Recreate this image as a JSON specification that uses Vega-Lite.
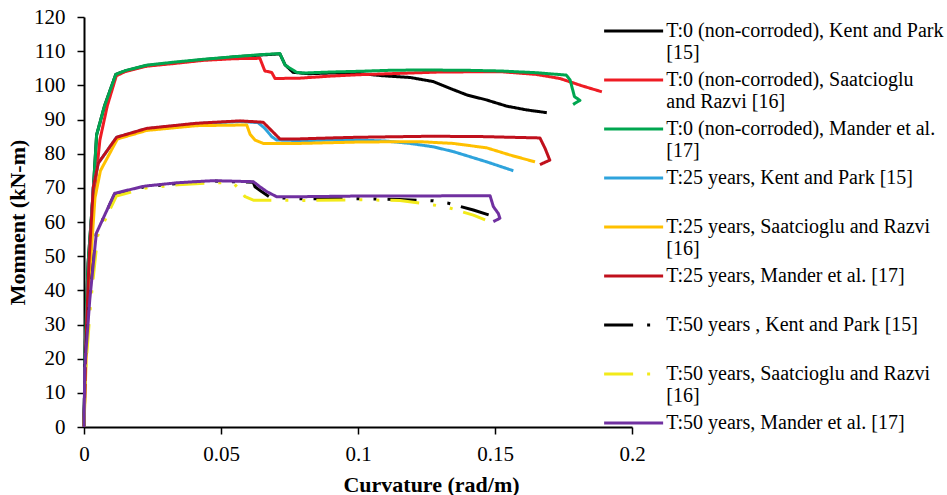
{
  "$schema": "https://vega.github.io/schema/vega-lite/v6.json",
  "width": 548,
  "height": 410,
  "autosize": "none",
  "padding": {"left": 84, "top": 17, "right": 315, "bottom": 68},
  "background": "white",
  "config": {
    "font": "Liberation Serif",
    "view": {"stroke": null},
    "axis": {"grid": false, "domainColor": "black", "domainWidth": 2, "tickColor": "black", "tickWidth": 1.5, "tickSize": 7, "labelFont": "Liberation Serif", "labelFontSize": 21, "labelColor": "black", "titleFont": "Liberation Serif", "titleFontSize": 22, "titleFontWeight": "bold", "titleColor": "black"},
    "legend": {"labelFont": "Liberation Serif", "labelFontSize": 20, "labelColor": "black"}
  },
  "data": {"values": [
    {"k":1,"i":0,"x":0,"y":0},{"k":1,"i":1,"x":0.0005,"y":25},{"k":1,"i":2,"x":0.0015,"y":48},{"k":1,"i":3,"x":0.0032,"y":67},{"k":1,"i":4,"x":0.0046,"y":85.5},{"k":1,"i":5,"x":0.0075,"y":94},{"k":1,"i":6,"x":0.0116,"y":103.2},{"k":1,"i":7,"x":0.015,"y":104.2},{"k":1,"i":8,"x":0.0229,"y":105.8},{"k":1,"i":9,"x":0.033,"y":106.6},{"k":1,"i":10,"x":0.0434,"y":107.5},{"k":1,"i":11,"x":0.055,"y":108.3},{"k":1,"i":12,"x":0.065,"y":108.9},{"k":1,"i":13,"x":0.0715,"y":109.2},{"k":1,"i":14,"x":0.0734,"y":106},{"k":1,"i":15,"x":0.0763,"y":103.8},{"k":1,"i":16,"x":0.082,"y":103.4},{"k":1,"i":17,"x":0.09,"y":103.6},{"k":1,"i":18,"x":0.1,"y":103.5},{"k":1,"i":19,"x":0.1092,"y":102.8},{"k":1,"i":20,"x":0.119,"y":102.3},{"k":1,"i":21,"x":0.1275,"y":101.1},{"k":1,"i":22,"x":0.1336,"y":99.1},{"k":1,"i":23,"x":0.1397,"y":97.2},{"k":1,"i":24,"x":0.147,"y":95.7},{"k":1,"i":25,"x":0.1543,"y":93.9},{"k":1,"i":26,"x":0.1616,"y":92.8},{"k":1,"i":27,"x":0.1689,"y":92.0},
    {"k":2,"i":0,"x":0,"y":0},{"k":2,"i":1,"x":0.0007,"y":25},{"k":2,"i":2,"x":0.002,"y":48},{"k":2,"i":3,"x":0.004,"y":70},{"k":2,"i":4,"x":0.0058,"y":84},{"k":2,"i":5,"x":0.0085,"y":94},{"k":2,"i":6,"x":0.0118,"y":102.8},{"k":2,"i":7,"x":0.015,"y":104},{"k":2,"i":8,"x":0.0229,"y":105.6},{"k":2,"i":9,"x":0.033,"y":106.4},{"k":2,"i":10,"x":0.0434,"y":107.3},{"k":2,"i":11,"x":0.055,"y":107.8},{"k":2,"i":12,"x":0.0642,"y":107.9},{"k":2,"i":13,"x":0.066,"y":104.2},{"k":2,"i":14,"x":0.0685,"y":103.8},{"k":2,"i":15,"x":0.0697,"y":102.0},{"k":2,"i":16,"x":0.0788,"y":102.1},{"k":2,"i":17,"x":0.09,"y":102.7},{"k":2,"i":18,"x":0.1,"y":103.1},{"k":2,"i":19,"x":0.1153,"y":103.5},{"k":2,"i":20,"x":0.13,"y":103.9},{"k":2,"i":21,"x":0.152,"y":104.0},{"k":2,"i":22,"x":0.165,"y":103.2},{"k":2,"i":23,"x":0.1737,"y":102.0},{"k":2,"i":24,"x":0.182,"y":99.8},{"k":2,"i":25,"x":0.189,"y":98.1},
    {"k":3,"i":0,"x":0,"y":0},{"k":3,"i":1,"x":0.0005,"y":25},{"k":3,"i":2,"x":0.0015,"y":48},{"k":3,"i":3,"x":0.0032,"y":67},{"k":3,"i":4,"x":0.0046,"y":85.5},{"k":3,"i":5,"x":0.0075,"y":94},{"k":3,"i":6,"x":0.0116,"y":103.2},{"k":3,"i":7,"x":0.015,"y":104.3},{"k":3,"i":8,"x":0.0229,"y":105.9},{"k":3,"i":9,"x":0.033,"y":106.8},{"k":3,"i":10,"x":0.0434,"y":107.6},{"k":3,"i":11,"x":0.055,"y":108.4},{"k":3,"i":12,"x":0.065,"y":109},{"k":3,"i":13,"x":0.0715,"y":109.3},{"k":3,"i":14,"x":0.0734,"y":105.9},{"k":3,"i":15,"x":0.0776,"y":103.8},{"k":3,"i":16,"x":0.08,"y":103.6},{"k":3,"i":17,"x":0.09,"y":103.9},{"k":3,"i":18,"x":0.1,"y":104.1},{"k":3,"i":19,"x":0.1117,"y":104.4},{"k":3,"i":20,"x":0.1226,"y":104.5},{"k":3,"i":21,"x":0.14,"y":104.4},{"k":3,"i":22,"x":0.152,"y":104.2},{"k":3,"i":23,"x":0.165,"y":103.7},{"k":3,"i":24,"x":0.176,"y":103.0},{"k":3,"i":25,"x":0.1774,"y":101.6},{"k":3,"i":26,"x":0.179,"y":96.7},{"k":3,"i":27,"x":0.181,"y":95.6},{"k":3,"i":28,"x":0.1785,"y":94.4},
    {"k":4,"i":0,"x":0,"y":0},{"k":4,"i":1,"x":0.0007,"y":25},{"k":4,"i":2,"x":0.0018,"y":48},{"k":4,"i":3,"x":0.0034,"y":70.3},{"k":4,"i":4,"x":0.0052,"y":77.2},{"k":4,"i":5,"x":0.0119,"y":84.8},{"k":4,"i":6,"x":0.0229,"y":87.3},{"k":4,"i":7,"x":0.0411,"y":88.8},{"k":4,"i":8,"x":0.0569,"y":89.4},{"k":4,"i":9,"x":0.0635,"y":89.1},{"k":4,"i":10,"x":0.066,"y":87.4},{"k":4,"i":11,"x":0.0685,"y":85.0},{"k":4,"i":12,"x":0.0703,"y":84.0},{"k":4,"i":13,"x":0.08,"y":83.8},{"k":4,"i":14,"x":0.09,"y":84.0},{"k":4,"i":15,"x":0.1,"y":84.0},{"k":4,"i":16,"x":0.11,"y":83.7},{"k":4,"i":17,"x":0.119,"y":83.0},{"k":4,"i":18,"x":0.1275,"y":82.0},{"k":4,"i":19,"x":0.1348,"y":80.6},{"k":4,"i":20,"x":0.1409,"y":79.1},{"k":4,"i":21,"x":0.147,"y":77.6},{"k":4,"i":22,"x":0.1567,"y":75.0},
    {"k":5,"i":0,"x":0,"y":0},{"k":5,"i":1,"x":0.001,"y":25},{"k":5,"i":2,"x":0.0024,"y":48},{"k":5,"i":3,"x":0.004,"y":67},{"k":5,"i":4,"x":0.006,"y":75},{"k":5,"i":5,"x":0.0122,"y":84.3},{"k":5,"i":6,"x":0.0229,"y":86.8},{"k":5,"i":7,"x":0.0411,"y":88.2},{"k":5,"i":8,"x":0.0594,"y":88.4},{"k":5,"i":9,"x":0.0606,"y":85.7},{"k":5,"i":10,"x":0.0624,"y":84.0},{"k":5,"i":11,"x":0.0654,"y":83.0},{"k":5,"i":12,"x":0.0788,"y":83.0},{"k":5,"i":13,"x":0.1,"y":83.4},{"k":5,"i":14,"x":0.1153,"y":83.5},{"k":5,"i":15,"x":0.1226,"y":83.5},{"k":5,"i":16,"x":0.1348,"y":83.0},{"k":5,"i":17,"x":0.147,"y":81.7},{"k":5,"i":18,"x":0.1555,"y":79.6},{"k":5,"i":19,"x":0.1646,"y":77.6},
    {"k":6,"i":0,"x":0,"y":0},{"k":6,"i":1,"x":0.0007,"y":25},{"k":6,"i":2,"x":0.0018,"y":48},{"k":6,"i":3,"x":0.0034,"y":70.3},{"k":6,"i":4,"x":0.0052,"y":77.2},{"k":6,"i":5,"x":0.0119,"y":84.8},{"k":6,"i":6,"x":0.0229,"y":87.4},{"k":6,"i":7,"x":0.0411,"y":88.9},{"k":6,"i":8,"x":0.0569,"y":89.6},{"k":6,"i":9,"x":0.0654,"y":89.2},{"k":6,"i":10,"x":0.0679,"y":87.2},{"k":6,"i":11,"x":0.0715,"y":84.3},{"k":6,"i":12,"x":0.0776,"y":84.3},{"k":6,"i":13,"x":0.09,"y":84.6},{"k":6,"i":14,"x":0.1,"y":84.8},{"k":6,"i":15,"x":0.1263,"y":85.1},{"k":6,"i":16,"x":0.145,"y":85.0},{"k":6,"i":17,"x":0.1664,"y":84.6},{"k":6,"i":18,"x":0.1683,"y":81.5},{"k":6,"i":19,"x":0.17,"y":78.1},{"k":6,"i":20,"x":0.1664,"y":76.8},
    {"k":7,"i":0,"x":0,"y":0},{"k":7,"i":1,"x":0.0003,"y":17.6},{"k":7,"i":2,"x":0.0021,"y":37.2},{"k":7,"i":3,"x":0.0045,"y":56.7},{"k":7,"i":4,"x":0.0112,"y":68.2},{"k":7,"i":5,"x":0.0221,"y":70.3},{"k":7,"i":6,"x":0.0343,"y":71.3},{"k":7,"i":7,"x":0.0472,"y":72.0},{"k":7,"i":8,"x":0.0618,"y":71.6},{"k":7,"i":9,"x":0.0624,"y":70.3},{"k":7,"i":10,"x":0.0648,"y":68.9},{"k":7,"i":11,"x":0.068,"y":67.2},{"k":7,"i":12,"x":0.0788,"y":66.8},{"k":7,"i":13,"x":0.1,"y":66.8},{"k":7,"i":14,"x":0.115,"y":66.6},{"k":7,"i":15,"x":0.1275,"y":66.2},{"k":7,"i":16,"x":0.133,"y":65.5},{"k":7,"i":17,"x":0.1421,"y":63.5},{"k":7,"i":18,"x":0.148,"y":62.0},
    {"k":8,"i":0,"x":0,"y":0},{"k":8,"i":1,"x":0.0006,"y":17},{"k":8,"i":2,"x":0.0025,"y":37},{"k":8,"i":3,"x":0.005,"y":56},{"k":8,"i":4,"x":0.0118,"y":67.6},{"k":8,"i":5,"x":0.0221,"y":69.9},{"k":8,"i":6,"x":0.0343,"y":70.9},{"k":8,"i":7,"x":0.0472,"y":71.5},{"k":8,"i":8,"x":0.0545,"y":71.4},{"k":8,"i":9,"x":0.0563,"y":69.9},{"k":8,"i":10,"x":0.0588,"y":67.4},{"k":8,"i":11,"x":0.0618,"y":66.4},{"k":8,"i":12,"x":0.08,"y":66.3},{"k":8,"i":13,"x":0.1,"y":66.5},{"k":8,"i":14,"x":0.1153,"y":66.3},{"k":8,"i":15,"x":0.1275,"y":65.0},{"k":8,"i":16,"x":0.133,"y":64.2},{"k":8,"i":17,"x":0.1421,"y":62.0},{"k":8,"i":18,"x":0.1464,"y":60.6},
    {"k":9,"i":0,"x":0,"y":0},{"k":9,"i":1,"x":0.0003,"y":17.6},{"k":9,"i":2,"x":0.0021,"y":37.2},{"k":9,"i":3,"x":0.0045,"y":56.7},{"k":9,"i":4,"x":0.0112,"y":68.4},{"k":9,"i":5,"x":0.0221,"y":70.5},{"k":9,"i":6,"x":0.0343,"y":71.5},{"k":9,"i":7,"x":0.0472,"y":72.1},{"k":9,"i":8,"x":0.0618,"y":71.8},{"k":9,"i":9,"x":0.0642,"y":70.3},{"k":9,"i":10,"x":0.0667,"y":68.9},{"k":9,"i":11,"x":0.0703,"y":67.4},{"k":9,"i":12,"x":0.0788,"y":67.4},{"k":9,"i":13,"x":0.1,"y":67.6},{"k":9,"i":14,"x":0.1153,"y":67.6},{"k":9,"i":15,"x":0.1482,"y":67.7},{"k":9,"i":16,"x":0.1494,"y":64.5},{"k":9,"i":17,"x":0.1512,"y":62.5},{"k":9,"i":18,"x":0.1518,"y":61.1},{"k":9,"i":19,"x":0.1494,"y":60.1}
  ]},
  "mark": {"type": "line", "strokeWidth": 3, "strokeJoin": "round", "strokeCap": "butt"},
  "encoding": {
    "x": {"field": "x", "type": "quantitative", "scale": {"domain": [0, 0.2], "nice": false, "zero": false},
      "axis": {"title": "Curvature (rad/m)", "values": [0, 0.05, 0.1, 0.15, 0.2], "format": "~g", "labelPadding": 9, "titlePadding": 10, "titleX": 347, "labelFlush": false}},
    "y": {"field": "y", "type": "quantitative", "scale": {"domain": [0, 120], "nice": false},
      "axis": {"title": "Momnent (kN-m)", "values": [0,10,20,30,40,50,60,70,80,90,100,110,120], "labelPadding": 12, "titlePadding": 4, "labelFlush": false}},
    "order": {"field": "i", "type": "quantitative"},
    "color": {"field": "k", "type": "nominal",
      "scale": {"domain": [1,2,3,4,5,6,7,8,9], "range": ["#000000", "#EE1C24", "#00A650", "#2EA3DC", "#FFC000", "#C0101C", "#000000", "#F2EA1A", "#7030A0"]},
      "legend": {"title": null, "orient": "none", "legendX": 517.5, "legendY": 4, "columns": 1, "symbolType": "M-1,0H7", "symbolSize": 217.6, "symbolStrokeWidth": 3, "labelOffset": 44.75, "labelLimit": 400, "rowPadding": 7, "gridAlign": "all", "padding": 0, "labelBaseline": "middle",
        "labelExpr": "[['T:0 (non-corroded), Kent and Park','[15]'],['T:0 (non-corroded), Saatcioglu','and Razvi [16]'],['T:0 (non-corroded), Mander et al.','[17]'],['T:25 years, Kent and Park [15]',' '],['T:25 years, Saatcioglu and Razvi','[16]'],['T:25 years, Mander et al. [17]',' '],['T:50 years , Kent and Park [15]',' '],['T:50 years, Saatcioglu and Razvi','[16]'],['T:50 years, Mander et al. [17]',' ']][toNumber(datum.label)-1]"}},
    "strokeDash": {"field": "k", "type": "nominal",
      "scale": {"domain": [1,2,3,4,5,6,7,8,9], "range": [[1,0],[1,0],[1,0],[1,0],[1,0],[1,0],[29,14,3,14,3,11],[29,14,3,14,3,11],[1,0]]},
      "legend": {"title": null}}
  }
}
